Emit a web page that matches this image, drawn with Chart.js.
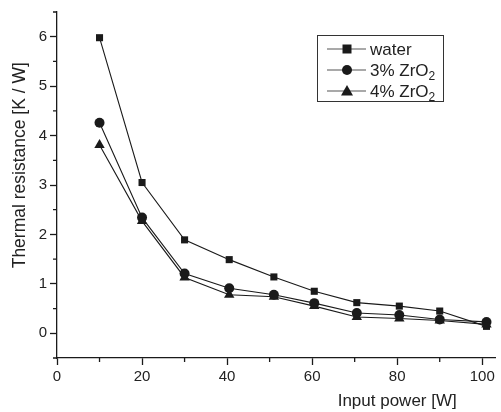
<!DOCTYPE html>
<html>
<head>
<meta charset="utf-8">
<script src="https://cdn.jsdelivr.net/npm/chart.js@4.4.0/dist/chart.umd.min.js"></script>
<style>
    html, body { margin: 0; padding: 0; background: #fff; }
    #wrap { width: 501px; height: 412px; }
</style>
</head>
<body>
<div id="wrap"><canvas id="chart" width="501" height="412"></canvas></div>
<script>
// Input power [W] and thermal resistance [K/W]
const power = [10, 20, 30, 40.5, 51, 60.5, 70.5, 80.5, 90, 101];
const water = [5.98, 3.05, 1.89, 1.49, 1.14, 0.85, 0.62, 0.55, 0.45, 0.14];
const zro3 = [4.26, 2.34, 1.21, 0.91, 0.78, 0.61, 0.41, 0.37, 0.28, 0.23];
const zro4 = [3.81, 2.27, 1.13, 0.78, 0.74, 0.55, 0.33, 0.30, 0.26, 0.18];

const xTicks = [0, 20, 40, 60, 80, 100];
const yTicks = [0, 1, 2, 3, 4, 5, 6];

const INK = '#1a1a1a';
const FONT = '"Liberation Sans", Arial, sans-serif';

const toPoints = (ys) => ys.map((y, i) => ({ x: power[i], y: y }));

// short minor ticks between the labelled ones, both axis titles and the boxed legend
const extras = {
    id: 'extras',
    afterDraw(chart) {
        const ctx = chart.ctx;
        const xs = chart.scales.x;
        const ys = chart.scales.y;
        ctx.save();
        ctx.strokeStyle = INK;
        ctx.lineWidth = 1.3;
        ctx.beginPath();
        for (let v = 10; v < 103; v += 20) {
            const px = xs.getPixelForValue(v);
            ctx.moveTo(px, xs.top);
            ctx.lineTo(px, xs.top + 4);
        }
        for (let v = -0.5; v <= 6.5; v += 1) {
            const py = ys.getPixelForValue(v);
            ctx.moveTo(ys.right, py);
            ctx.lineTo(ys.right - 4, py);
        }
        ctx.stroke();

        // axis titles are both off-centre in the original
        ctx.fillStyle = '#222';
        ctx.textAlign = 'center';
        ctx.textBaseline = 'middle';
        ctx.font = '17px ' + FONT;
        ctx.fillText('Input power [W]', xs.getPixelForValue(80), 401);

        ctx.save();
        ctx.translate(20, ys.getPixelForValue(3.4));
        ctx.rotate(-Math.PI / 2);
        ctx.font = '17.5px ' + FONT;
        ctx.fillText('Thermal resistance [K / W]', 0, 0);
        ctx.restore();

        // legend
        const box = { x: 317, y: 35, w: 126, h: 66 };
        ctx.lineWidth = 1;
        ctx.strokeStyle = '#333';
        ctx.strokeRect(box.x + 0.5, box.y + 0.5, box.w, box.h);
        chart.data.datasets.forEach((ds, i) => {
            const cy = box.y + 14 + i * 21;
            ctx.strokeStyle = '#555';
            ctx.lineWidth = 1.2;
            ctx.beginPath();
            ctx.moveTo(box.x + 10, cy);
            ctx.lineTo(box.x + 49, cy);
            ctx.stroke();
            ctx.fillStyle = INK;
            const mx = box.x + 30;
            ctx.beginPath();
            if (ds.pointStyle === 'rect') {
                ctx.rect(mx - 4.5, cy - 4.5, 9, 9);
            } else if (ds.pointStyle === 'circle') {
                ctx.arc(mx, cy, 5, 0, Math.PI * 2);
            } else {
                ctx.moveTo(mx, cy - 6);
                ctx.lineTo(mx + 6, cy + 4.5);
                ctx.lineTo(mx - 6, cy + 4.5);
                ctx.closePath();
            }
            ctx.fill();

            // label, with a lowered "2" for the oxide
            const parts = ds.label.split('\u2082');
            ctx.fillStyle = '#222';
            ctx.textAlign = 'left';
            ctx.textBaseline = 'alphabetic';
            ctx.font = '17px ' + FONT;
            let tx = box.x + 53;
            ctx.fillText(parts[0], tx, cy + 6);
            if (parts.length > 1) {
                tx += ctx.measureText(parts[0]).width;
                ctx.font = '12px ' + FONT;
                ctx.fillText('2', tx, cy + 10);
            }
        });
        ctx.restore();
    }
};

new Chart(document.getElementById('chart'), {
    type: 'line',
    data: {
        datasets: [
            { label: 'water', data: toPoints(water), pointStyle: 'rect', pointRadius: 5 },
            { label: '3% ZrO\u2082', data: toPoints(zro3), pointStyle: 'circle', pointRadius: 5 },
            { label: '4% ZrO\u2082', data: toPoints(zro4), pointStyle: 'triangle', pointRadius: 6 }
        ].map(ds => ({
            ...ds,
            borderColor: INK,
            backgroundColor: INK,
            pointBackgroundColor: INK,
            pointBorderColor: INK,
            pointBorderWidth: 0,
            borderWidth: 1.1,
            tension: 0,
            fill: false
        }))
    },
    options: {
        responsive: false,
        animation: false,
        layout: { padding: { top: 12, right: 0, left: 0, bottom: 0 } },
        plugins: {
            legend: { display: false },
            tooltip: { enabled: false }
        },
        scales: {
            x: {
                type: 'linear',
                min: 0,
                max: 103,
                afterFit: (scale) => { scale.height = 54; },
                afterBuildTicks: (scale) => { scale.ticks = xTicks.map(v => ({ value: v })); },
                border: { color: INK, width: 1.3 },
                grid: { drawOnChartArea: false, tickLength: 7, tickColor: INK, tickWidth: 1.3 },
                ticks: { color: '#222', font: { family: FONT, size: 15 }, padding: 3, maxRotation: 0 }
            },
            y: {
                type: 'linear',
                min: -0.5,
                max: 6.5,
                afterFit: (scale) => { scale.width = 57; },
                afterBuildTicks: (scale) => { scale.ticks = yTicks.map(v => ({ value: v })); },
                border: { color: INK, width: 1.3 },
                grid: { drawOnChartArea: false, tickLength: 7, tickColor: INK, tickWidth: 1.3 },
                ticks: { color: '#222', font: { family: FONT, size: 15 }, padding: 3 }
            }
        }
    },
    plugins: [extras]
});
</script>
</body>
</html>
